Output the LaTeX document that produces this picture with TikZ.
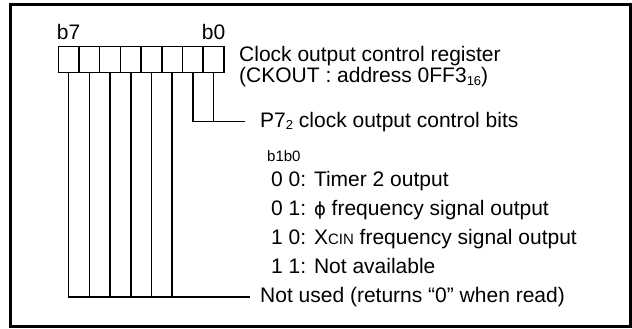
\documentclass[tikz,border=0pt]{standalone}
\usepackage{fontspec}
\setmainfont{Liberation Sans}
\newfontfamily\phifont{DejaVu Sans}
\usetikzlibrary{positioning}

\newcommand{\lowsub}[1]{\raisebox{-2.5pt}{\fontsize{13}{13}\selectfont #1}}

\begin{document}
\begin{tikzpicture}[
  x=1pt, y=-1pt,
  bitcell/.style={
    rectangle, draw, line width=1.5pt, outer sep=0pt,
    minimum width=20.7pt, minimum height=26pt, inner sep=0pt,
  },
  bitlab/.style={font=\fontsize{21}{21}\selectfont, inner sep=0pt, anchor=base},
  txt/.style={font=\fontsize{21}{21}\selectfont, inner sep=0pt, anchor=base west},
  small/.style={font=\fontsize{15}{15}\selectfont, inner sep=0pt, anchor=base west},
  lead/.style={font=\fontsize{21}{21}\selectfont, inner ysep=0pt, anchor=west},
  wire/.style={line width=1.5pt},
  frame/.style={line width=3pt},
]

\useasboundingbox (0,0) rectangle (632,329);

% Frame
\draw[frame] (10.5,4.5) rectangle (630.5,326.5);

% Register cells, b7 on the left
\node[bitcell] (c7) at (68.65,59.7) {};
\foreach \i [remember=\i as \last (initially 7)] in {6,...,0}
  \node[bitcell, right=0pt of c\last] (c\i) {};

% Bit labels
\node[bitlab] (b7) at ([yshift=6.7pt]c7.north) {b7};
\node[bitlab] (b0) at ([yshift=6.7pt]c0.north) {b0};

% Register name
\node[txt] (reg) at (239,62) {Clock output control register};
\node[txt] (regaddr) at (239,83) {(CKOUT : address 0FF3\lowsub{16})};

% Bit descriptions
\node[lead, inner xsep=15pt] (p7bits) at (245,121.7) {P7\lowsub{2} clock output control bits};
\node[small] (head) at (267,161) {b1b0};
\node[txt] (o00) at (271,186.7) {0 0: Timer 2 output};
\node[txt] (o01) at (271,215.7) {0 1: {\phifont\fontsize{18}{18}\selectfont ϕ} frequency signal output};
\node[txt] (o10) at (271,244.7) {1 0: X{\fontsize{15}{15}\selectfont CIN} frequency signal output};
\node[txt] (o11) at (271,273.7) {1 1: Not available};
\node[lead, inner xsep=10pt] (notused) at (250,297) {Not used (returns “0” when read)};

% Connectors
\draw[wire] (c1.south) |- (p7bits.west);
\draw[wire] (c0.south) -- (c0.south |- p7bits.west);
\draw[wire] (c7.south) |- (notused.west);
\foreach \i in {2,...,6}
  \draw[wire] (c\i.south) -- (c\i.south |- notused.west);

\end{tikzpicture}
\end{document}
